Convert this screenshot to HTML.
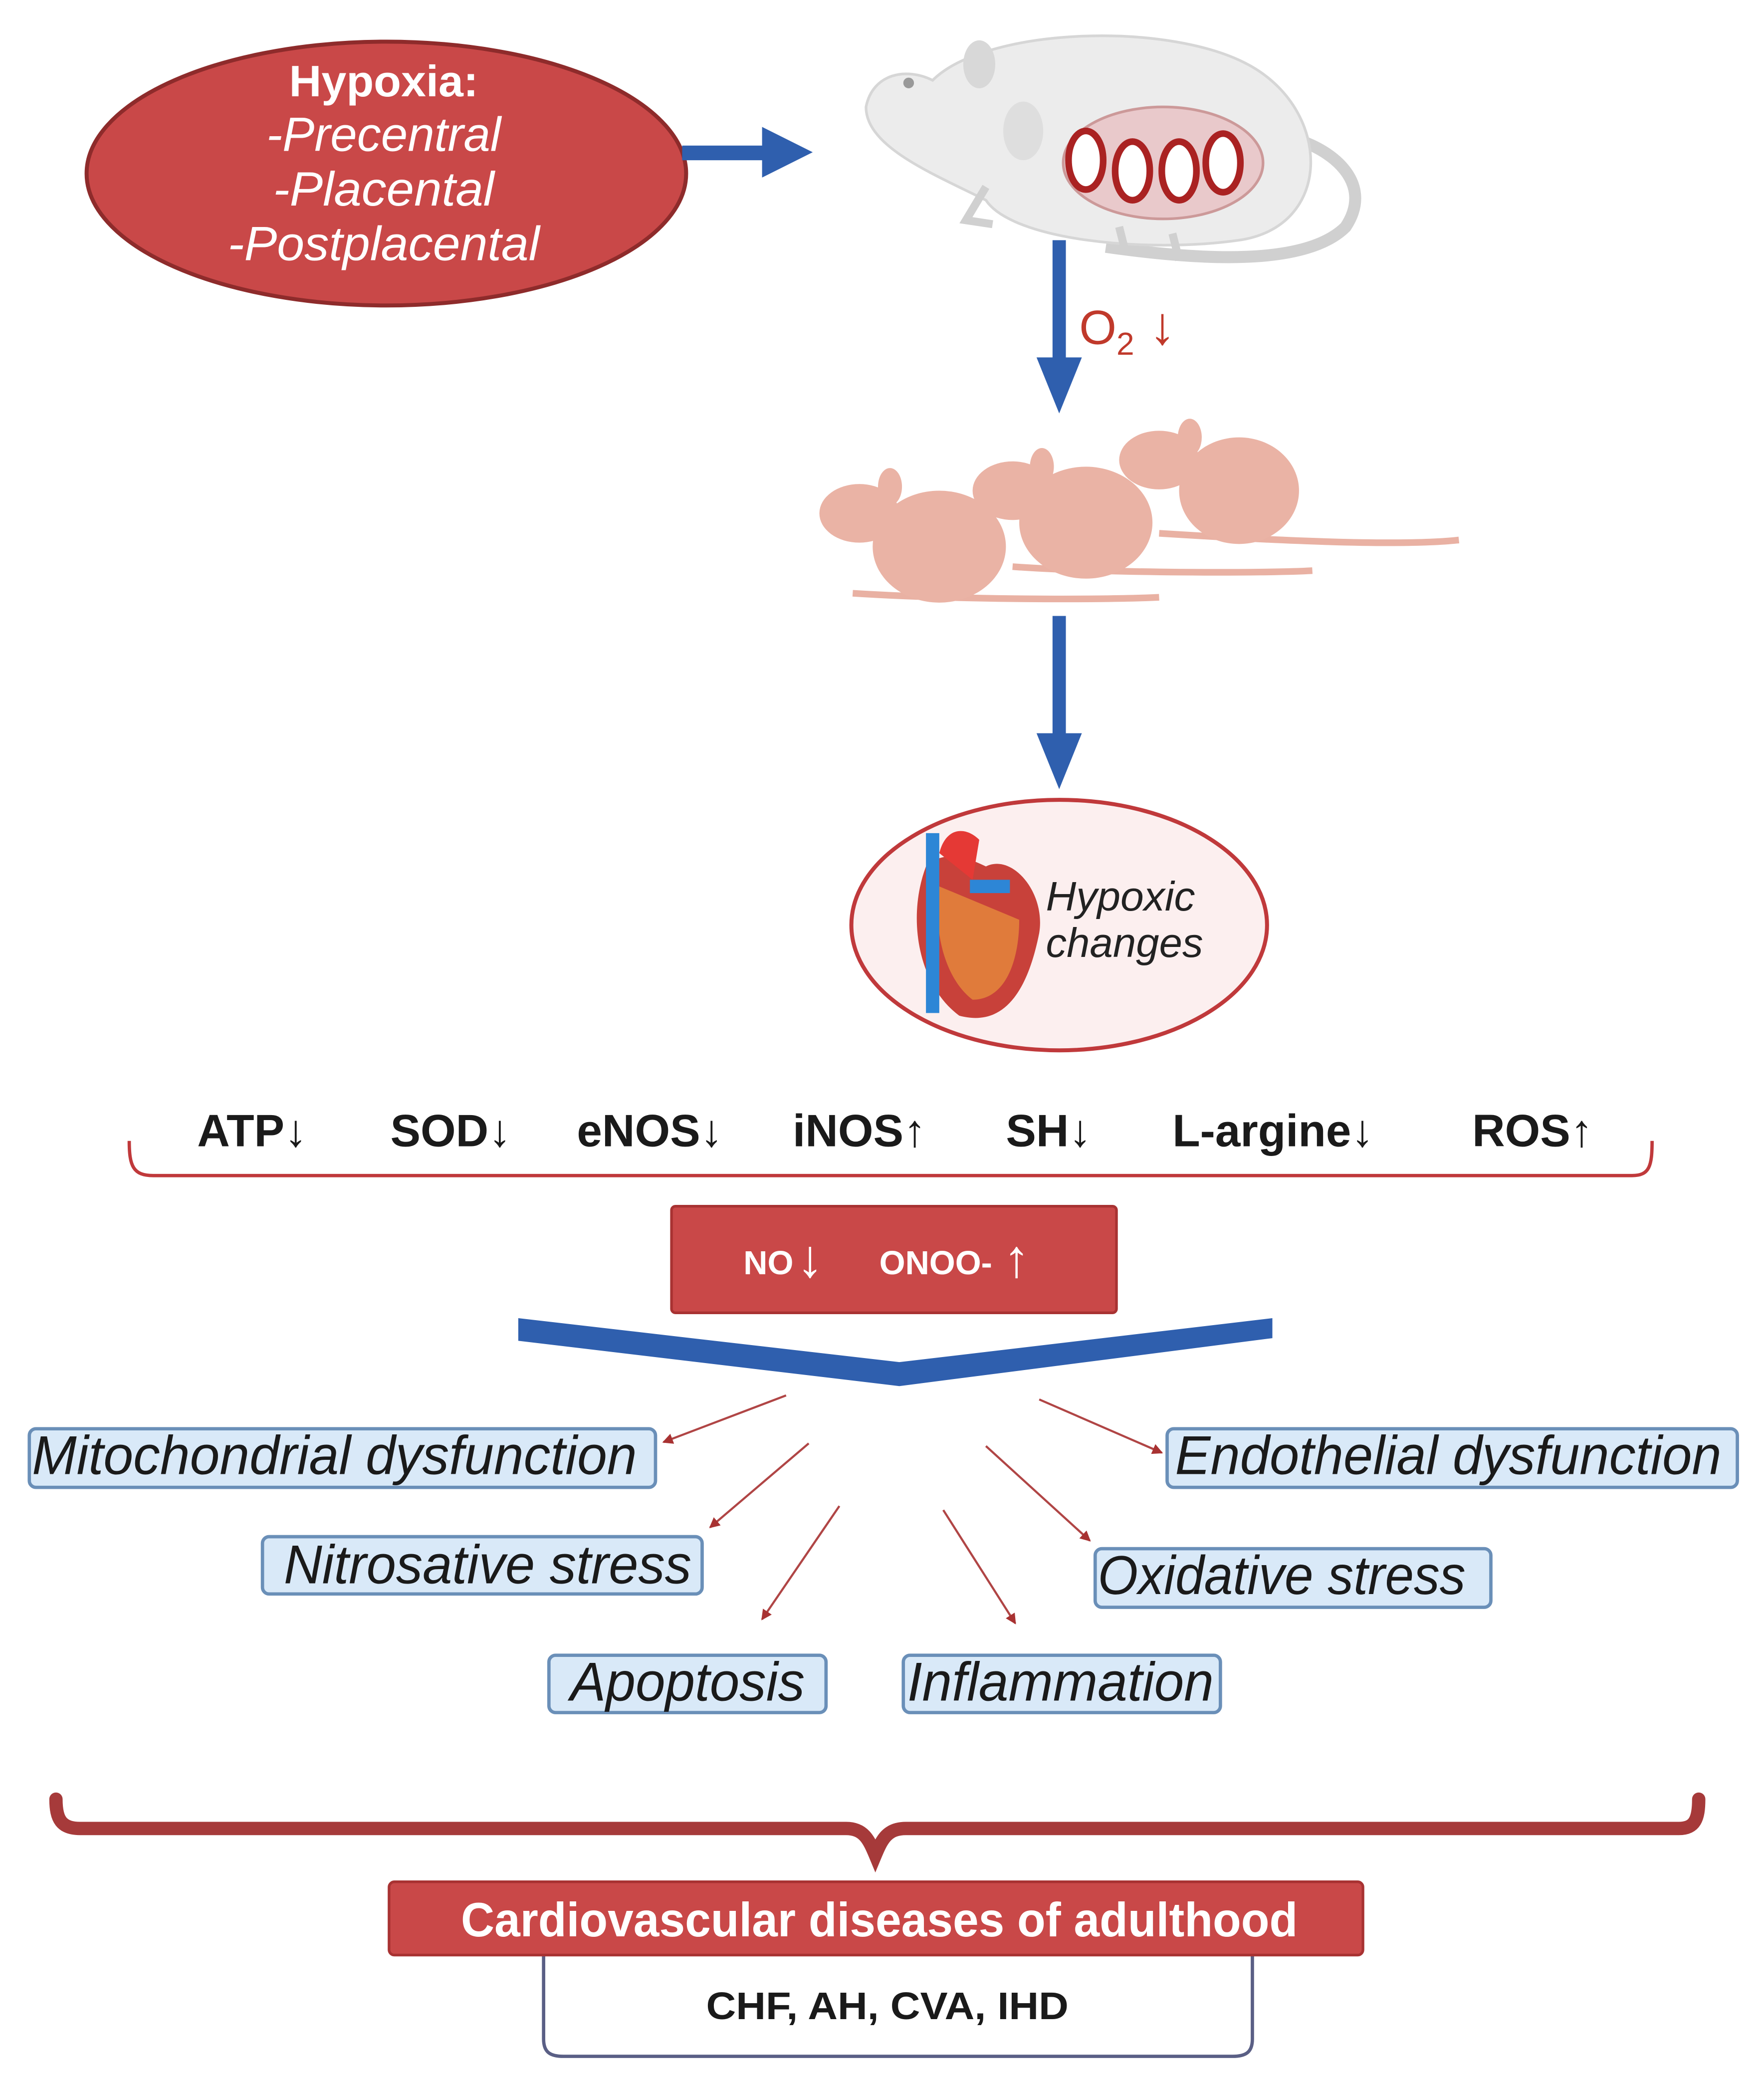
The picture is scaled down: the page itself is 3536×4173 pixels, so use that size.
<!DOCTYPE html>
<html><head><meta charset="utf-8"><style>
html,body{margin:0;padding:0;background:#fff;}
svg{display:block;}
text{font-family:"Liberation Sans",sans-serif;}
</style></head><body>
<svg width="3536" height="4173" viewBox="0 0 1324 1562" xmlns="http://www.w3.org/2000/svg">
<defs>
<marker id="ra" markerWidth="8" markerHeight="8" refX="7" refY="4" orient="auto" markerUnits="userSpaceOnUse"><path d="M0,0 L8,4 L0,8 z" fill="#a83232"/></marker>
</defs>
<rect width="1324" height="1562" fill="#fff"/>
<!-- Hypoxia ellipse -->
<ellipse cx="290" cy="130" rx="225" ry="99" fill="#c94848" stroke="#8e2b2b" stroke-width="3"/>
<text x="288" y="72" fill="#fff" font-size="33" font-weight="bold" text-anchor="middle" textLength="142" lengthAdjust="spacingAndGlyphs">Hypoxia:</text>
<text x="288" y="113" fill="#fff" font-size="36" font-style="italic" text-anchor="middle" textLength="176" lengthAdjust="spacingAndGlyphs">-Precentral</text>
<text x="288" y="154" fill="#fff" font-size="36" font-style="italic" text-anchor="middle" textLength="166" lengthAdjust="spacingAndGlyphs">-Placental</text>
<text x="288" y="195" fill="#fff" font-size="36" font-style="italic" text-anchor="middle" textLength="234" lengthAdjust="spacingAndGlyphs">-Postplacental</text>
<!-- right arrow -->
<rect x="512" y="109" width="62" height="11" fill="#2f5fae"/>
<path d="M572,95 L610,114 L572,133 z" fill="#2f5fae"/>
<!-- gray mouse -->
<g>
<path d="M830,185 C900,195 980,200 1010,170 C1030,140 1005,115 975,105" fill="none" stroke="#d0d0d0" stroke-width="9"/>
<path d="M700,60 C740,20 880,15 940,50 C1000,85 1000,170 930,180 C860,190 760,180 740,150 C700,130 650,110 650,80 C655,55 680,50 700,60 z" fill="#ececec" stroke="#d6d6d6" stroke-width="2"/>
<ellipse cx="735" cy="48" rx="12" ry="18" fill="#d8d8d8"/>
<ellipse cx="768" cy="98" rx="15" ry="22" fill="#dedede"/>
<circle cx="682" cy="62" r="4" fill="#999"/>
<path d="M740,140 L725,165 L745,168" stroke="#d0d0d0" stroke-width="6" fill="none"/>
<path d="M840,170 L845,190 M880,175 L885,195" stroke="#d0d0d0" stroke-width="6" fill="none"/>
<ellipse cx="873" cy="122" rx="75" ry="42" fill="#e9c9cb" stroke="#c99" stroke-width="2"/>
<ellipse cx="815" cy="120" rx="13" ry="22" fill="#fff" stroke="#a22" stroke-width="5"/>
<ellipse cx="850" cy="128" rx="13" ry="22" fill="#fff" stroke="#a22" stroke-width="5"/>
<ellipse cx="885" cy="128" rx="13" ry="22" fill="#fff" stroke="#a22" stroke-width="5"/>
<ellipse cx="918" cy="122" rx="13" ry="22" fill="#fff" stroke="#a22" stroke-width="5"/>
</g>
<!-- down arrow 1 -->
<rect x="790" y="180" width="10" height="90" fill="#2f5fae"/>
<path d="M778,268 L812,268 L795,310 z" fill="#2f5fae"/>
<text x="810" y="258" fill="#c0392b" font-size="36">O<tspan font-size="24" dy="8">2</tspan><tspan dy="-8" font-size="40" font-weight="bold"> ↓</tspan></text>
<!-- pink mice -->
<g fill="#eab3a5">
<path d="M870,400 C950,405 1050,410 1095,405" stroke="#e9b1a3" stroke-width="5" fill="none"/>
<path d="M760,425 C830,430 950,430 985,428" stroke="#e9b1a3" stroke-width="5" fill="none"/>
<path d="M640,445 C720,450 830,450 870,448" stroke="#e9b1a3" stroke-width="5" fill="none"/>
<ellipse cx="930" cy="368" rx="45" ry="40"/>
<ellipse cx="870" cy="345" rx="30" ry="22"/>
<ellipse cx="893" cy="328" rx="9" ry="14"/>
<ellipse cx="815" cy="392" rx="50" ry="42"/>
<ellipse cx="760" cy="368" rx="30" ry="22"/>
<ellipse cx="782" cy="350" rx="9" ry="14"/>
<ellipse cx="705" cy="410" rx="50" ry="42"/>
<ellipse cx="645" cy="385" rx="30" ry="22"/>
<ellipse cx="668" cy="365" rx="9" ry="14"/>
</g>
<!-- down arrow 2 -->
<rect x="790" y="462" width="10" height="90" fill="#2f5fae"/>
<path d="M778,550 L812,550 L795,592 z" fill="#2f5fae"/>
<!-- heart ellipse -->
<ellipse cx="795" cy="694" rx="156" ry="94" fill="#fcefef" stroke="#c0393b" stroke-width="3"/>
<path d="M695,650 C680,690 690,740 720,762 C750,770 770,750 780,700 C785,670 760,640 740,650 C720,640 705,640 695,650 z" fill="#c8413a"/>
<path d="M705,665 C700,700 710,735 730,750 C755,750 765,720 765,690 z" fill="#e07b3b"/>
<rect x="695" y="625" width="10" height="135" fill="#2d86d6"/>
<path d="M705,640 C710,620 725,620 735,630 L730,660 z" fill="#e53935"/>
<rect x="728" y="660" width="30" height="10" fill="#2d86d6"/>
<text x="785" y="683" fill="#222" font-size="31" font-style="italic" textLength="112" lengthAdjust="spacingAndGlyphs">Hypoxic</text>
<text x="785" y="718" fill="#222" font-size="31" font-style="italic" textLength="118" lengthAdjust="spacingAndGlyphs">changes</text>
<!-- row -->
<g font-size="34" font-weight="bold" fill="#1a1a1a">
<text x="148" y="860">ATP<tspan font-weight="normal">↓</tspan></text>
<text x="293" y="860">SOD<tspan font-weight="normal">↓</tspan></text>
<text x="433" y="860">eNOS<tspan font-weight="normal">↓</tspan></text>
<text x="595" y="860">iNOS<tspan font-weight="normal">↑</tspan></text>
<text x="755" y="860">SH<tspan font-weight="normal">↓</tspan></text>
<text x="880" y="860">L-argine<tspan font-weight="normal">↓</tspan></text>
<text x="1105" y="860">ROS<tspan font-weight="normal">↑</tspan></text>
</g>
<path d="M97,856 C97,875 100,882 115,882 L1225,882 C1238,882 1240,875 1240,856" fill="none" stroke="#c0393b" stroke-width="2.5"/>
<!-- NO box -->
<rect x="504" y="905" width="334" height="80" rx="3" fill="#c94848" stroke="#a83232" stroke-width="2"/>
<text x="558" y="956" fill="#fff" font-size="25" font-weight="bold">NO</text>
<text x="598" y="958" fill="#fff" font-size="40" font-weight="bold">↓</text>
<text x="660" y="956" fill="#fff" font-size="25" font-weight="bold">ONOO-</text>
<text x="753" y="958" fill="#fff" font-size="40" font-weight="bold">↑</text>
<!-- chevron -->
<path d="M389,989 L675,1022 L955,989 L955,1004 L675,1040 L389,1006 z" fill="#2f5fae"/>
<!-- arrows -->
<g stroke="#b04545" stroke-width="1.6" marker-end="url(#ra)">
<line x1="590" y1="1047" x2="498" y2="1082"/>
<line x1="607" y1="1083" x2="533" y2="1146"/>
<line x1="630" y1="1130" x2="572" y2="1215"/>
<line x1="708" y1="1133" x2="762" y2="1218"/>
<line x1="740" y1="1085" x2="818" y2="1156"/>
<line x1="780" y1="1050" x2="872" y2="1090"/>
</g>
<!-- boxes -->
<g fill="#d9e9f8" stroke="#6a8fb8" stroke-width="2.5">
<rect x="22" y="1072" width="470" height="44" rx="5"/>
<rect x="876" y="1072" width="428" height="44" rx="5"/>
<rect x="197" y="1153" width="330" height="43" rx="5"/>
<rect x="822" y="1162" width="297" height="44" rx="5"/>
<rect x="412" y="1242" width="208" height="43" rx="5"/>
<rect x="678" y="1242" width="238" height="43" rx="5"/>
</g>
<g font-size="41" font-style="italic" fill="#1a1a1a" lengthAdjust="spacingAndGlyphs">
<text x="24" y="1106" textLength="454" lengthAdjust="spacingAndGlyphs">Mitochondrial dysfunction</text>
<text x="882" y="1106" textLength="410" lengthAdjust="spacingAndGlyphs">Endothelial dysfunction</text>
<text x="213" y="1188" textLength="306" lengthAdjust="spacingAndGlyphs">Nitrosative stress</text>
<text x="824" y="1196" textLength="276" lengthAdjust="spacingAndGlyphs">Oxidative stress</text>
<text x="428" y="1276" textLength="176" lengthAdjust="spacingAndGlyphs">Apoptosis</text>
<text x="681" y="1276" textLength="230" lengthAdjust="spacingAndGlyphs">Inflammation</text>
</g>
<!-- big brace -->
<path d="M42,1350 C42,1365 46,1372 60,1372 L635,1372 C648,1372 652,1380 657,1392 C662,1380 666,1372 680,1372 L1260,1372 C1272,1372 1275,1365 1275,1350" fill="none" stroke="#a63a3a" stroke-width="10" stroke-linecap="round"/>
<!-- CVD box -->
<path d="M408,1466 L408,1530 C408,1540 413,1543 423,1543 L925,1543 C935,1543 940,1540 940,1530 L940,1466" fill="#fff" stroke="#5a5f85" stroke-width="2.5"/>
<rect x="292" y="1412" width="731" height="55" rx="4" fill="#c94848" stroke="#a83232" stroke-width="2"/>
<text x="660" y="1453" fill="#fff" font-size="36" font-weight="bold" text-anchor="middle" textLength="628" lengthAdjust="spacingAndGlyphs">Cardiovascular diseases of adulthood</text>
<text x="666" y="1515" fill="#1a1a1a" font-size="29" font-weight="bold" text-anchor="middle" textLength="272" lengthAdjust="spacingAndGlyphs">CHF, AH, CVA, IHD</text>
</svg>
</body></html>
